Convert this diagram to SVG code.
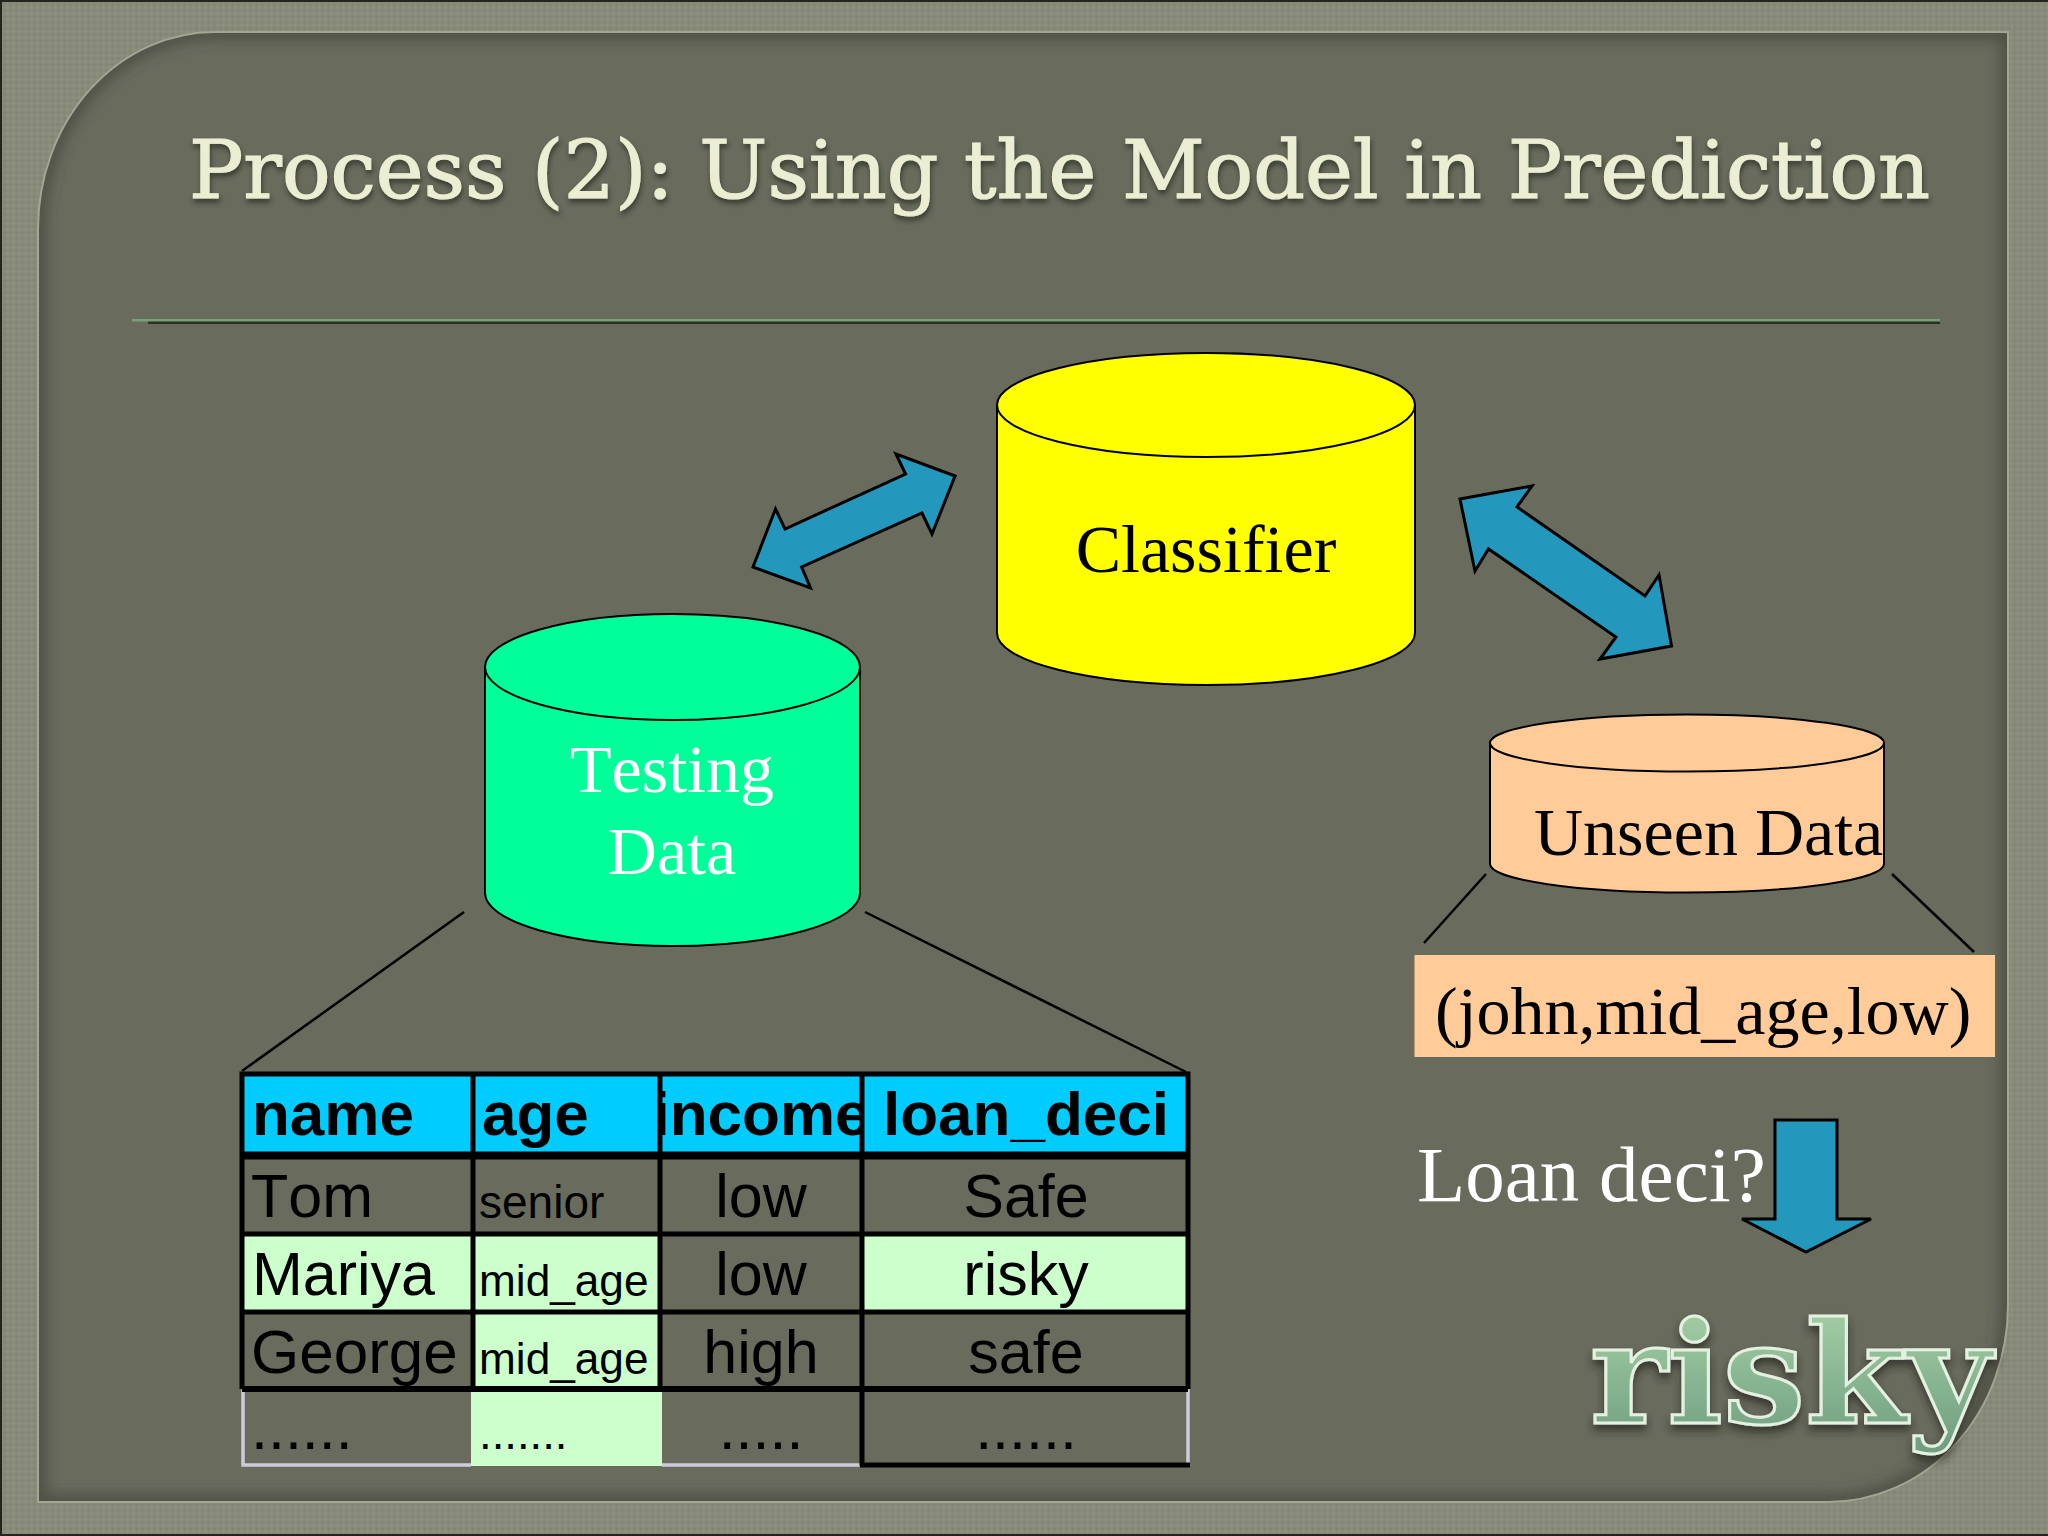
<svg xmlns="http://www.w3.org/2000/svg" width="2048" height="1536" viewBox="0 0 2048 1536">
<defs>
<pattern id="weave" width="6" height="6" patternUnits="userSpaceOnUse"><rect width="6" height="6" fill="#888b7a"/><circle cx="1.5" cy="1.5" r="1.2" fill="#8f9281"/><circle cx="4.5" cy="4.5" r="1.2" fill="#818473"/></pattern>
<filter id="blur8" x="-5%" y="-5%" width="110%" height="110%"><feGaussianBlur stdDeviation="7"/></filter>
<filter id="titleFx" x="-5%" y="-20%" width="110%" height="150%"><feDropShadow dx="1" dy="4" stdDeviation="2.5" flood-color="#2c2d24" flood-opacity="0.75"/></filter>
<filter id="riskyFx" x="-10%" y="-20%" width="120%" height="150%"><feDropShadow dx="0" dy="6" stdDeviation="4" flood-color="#23241c" flood-opacity="0.7"/></filter>
<linearGradient id="riskyFill" x1="0" y1="0" x2="0" y2="1"><stop offset="0" stop-color="#a9d3a8"/><stop offset="1" stop-color="#6d9c7f"/></linearGradient>
<clipPath id="panelClip"><path d="M215 32H2008V1305A180 197 0 0 1 1828 1502H38V229A177 197 0 0 1 215 32Z"/></clipPath>
<clipPath id="incomeClip"><rect x="662" y="1078" width="201" height="74"/></clipPath>
<style>
.sans{font-family:"Liberation Sans",Arial,sans-serif;fill:#000;font-kerning:none}
.c{font-size:61px}.h{font-size:62px;font-weight:700}.s{font-size:44.2px}.t{font-size:46px}.d{font-size:45.5px}
.m{text-anchor:middle}
.serif{font-family:"Liberation Serif","Times New Roman",serif;font-size:68px;font-kerning:none}
.can{stroke:#000;stroke-width:2}
.arrow{fill:#2397bc;stroke:#000;stroke-width:3;stroke-linejoin:miter}
.lead{fill:none;stroke:#000;stroke-width:2.5}
.blue{fill:#00ccff}.mint{fill:#ccffcc}
.grid{stroke:#000;stroke-width:5;fill:none}
.pale{stroke:#ccccdd;stroke-width:3.5;fill:none}
</style>
</defs>

<g id="background">
<rect width="2048" height="1536" fill="url(#weave)"/>
<path d="M0 1H2048M1 0V1536M0 1535H2048" stroke="#23241c" stroke-width="2" fill="none"/>
<path d="M215 32H2008V1305A180 197 0 0 1 1828 1502H38V229A177 197 0 0 1 215 32Z" fill="#696b5d"/>
<g clip-path="url(#panelClip)"><path d="M215 32H2008V1305A180 197 0 0 1 1828 1502H38V229A177 197 0 0 1 215 32Z" fill="none" stroke="#3f4036" stroke-opacity="0.7" stroke-width="14" filter="url(#blur8)"/></g>
<path d="M215 32H2008V1305A180 197 0 0 1 1828 1502H38V229A177 197 0 0 1 215 32Z" fill="none" stroke="#a3a693" stroke-width="2"/>
<rect x="148" y="321" width="1792" height="3" fill="#2b3021"/>
<rect x="132" y="319" width="1808" height="2.500" fill="#76a07c"/>
</g>

<text id="title" x="189" y="198" font-family="'DejaVu Serif',serif" font-size="80" fill="#eceed3" stroke="#eceed3" stroke-width="1.200" textLength="1741" lengthAdjust="spacingAndGlyphs" filter="url(#titleFx)">Process (2): Using the Model in Prediction</text>

<g id="connectors">
<path class="lead" d="M464 912L242 1071"/>
<path class="lead" d="M865 912L1186 1072"/>
<path class="lead" d="M1486 874L1424 943"/>
<path class="lead" d="M1892 874L1974 952"/>
<polygon class="arrow" points="955,476 896,454 905.600,474 785,529 775.500,509 753,567 810.500,588 801.600,567 922,513 932,534"/>
<polygon class="arrow" points="1460,499 1532,486 1517,507 1645,596 1659,575 1671.500,646 1600,659 1616,637 1488.500,549 1475,571"/>
<polygon class="arrow" points="1775,1120 1837,1120 1837,1219 1871,1219 1806,1252 1742,1219 1775,1219"/>
</g>

<g id="classifier">
<path class="can" fill="#ffff00" d="M997 405A209 52 0 0 1 1415 405V633A209 52 0 0 1 997 633Z"/>
<path class="can" fill="none" d="M997 405A209 52 0 0 0 1415 405"/>
<text class="serif" x="1206" y="572" text-anchor="middle" fill="#000">Classifier</text>
</g>

<g id="testing-data">
<path class="can" fill="#00ff99" d="M485 667A187.500 53 0 0 1 860 667V893A187.500 53 0 0 1 485 893Z"/>
<path class="can" fill="none" d="M485 667A187.500 53 0 0 0 860 667"/>
<text class="serif" x="672" y="792" text-anchor="middle" fill="#fff">Testing</text>
<text class="serif" x="672" y="874" text-anchor="middle" fill="#fff">Data</text>
</g>

<g id="unseen-data">
<path class="can" fill="#ffcc99" d="M1490 743A197 28.500 0 0 1 1884 743V864A197 28.500 0 0 1 1490 864Z"/>
<path class="can" fill="none" d="M1490 743A197 28.500 0 0 0 1884 743"/>
<text class="serif" x="1534" y="855" fill="#000">Unseen Data</text>
</g>

<g id="record">
<rect x="1414.500" y="955" width="580.500" height="102" fill="#ffcc99"/>
<text class="serif" x="1435" y="1034" fill="#000">(john,mid_age,low)</text>
</g>

<text id="question" x="1417" y="1201" font-family="'Liberation Serif','Times New Roman',serif" font-size="79" fill="#fff" style="font-kerning:none">Loan deci?</text>

<text id="result" x="1590" y="1423" font-family="'DejaVu Serif',serif" font-weight="700" font-size="140" fill="url(#riskyFill)" stroke="#e4f0e0" stroke-width="3" textLength="402" lengthAdjust="spacingAndGlyphs" filter="url(#riskyFx)">risky</text>

<g id="table">
<rect class="blue" x="242" y="1074" width="946" height="81"/>
<rect class="mint" x="242" y="1234" width="231" height="78"/>
<rect class="mint" x="473" y="1234" width="187" height="78"/>
<rect class="mint" x="862" y="1234" width="326" height="78"/>
<rect class="mint" x="473" y="1312" width="187" height="77"/>
<rect class="mint" x="471" y="1389" width="191" height="77"/>
<path class="pale" d="M243 1389V1465H471M662 1465H862M1188 1389V1465"/>
<path class="grid" d="M242 1389V1074H1188V1389M473 1074V1389M660 1074V1389M862 1074V1466M242 1234H1188M242 1312H1188M860 1465H1190"/>
<path d="M242 1155.500H1188" stroke="#000" stroke-width="8"/>
<path d="M242 1389H1188" stroke="#000" stroke-width="6"/>

<text class="sans h" x="252" y="1135">name</text>
<text class="sans h" x="482" y="1135">age</text>
<text class="sans h m" x="761" y="1135" clip-path="url(#incomeClip)">income</text>
<text class="sans h" x="883" y="1135">loan_deci</text>

<text class="sans c" x="251" y="1217">Tom</text>
<text class="sans t" x="479" y="1218">senior</text>
<text class="sans c m" x="761" y="1217">low</text>
<text class="sans c m" x="1026" y="1217">Safe</text>

<text class="sans c" x="252" y="1295">Mariya</text>
<text class="sans s" x="479" y="1296">mid_age</text>
<text class="sans c m" x="761" y="1295">low</text>
<text class="sans c m" x="1026" y="1295">risky</text>

<text class="sans" font-size="62" x="251" y="1373">George</text>
<text class="sans s" x="479" y="1374">mid_age</text>
<text class="sans c m" x="761" y="1373">high</text>
<text class="sans c m" x="1026" y="1373">safe</text>

<text class="sans c" x="251" y="1449">......</text>
<text class="sans d" x="479" y="1449">.......</text>
<text class="sans c m" x="761" y="1449">.....</text>
<text class="sans c m" x="1026" y="1449">......</text>
</g>
</svg>
